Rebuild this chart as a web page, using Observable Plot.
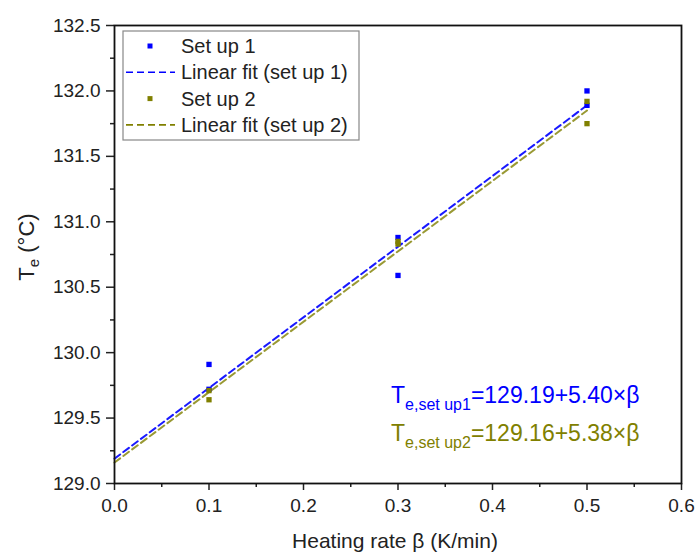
<!DOCTYPE html>
<html>
<head>
<meta charset="utf-8">
<script src="https://cdn.jsdelivr.net/npm/d3@7"></script>
<script src="https://cdn.jsdelivr.net/npm/@observablehq/plot@0.6"></script>
<style>
  html, body { margin: 0; padding: 0; background: #fff; }
  #chart svg { font-family: "Liberation Sans", Arial, sans-serif; }
</style>
</head>
<body>
<div id="chart"></div>
<script>
// ---- data ----
const setup1Rate = [0.1, 0.1, 0.3, 0.3, 0.5, 0.5];
const setup1Te   = [129.91, 129.72, 130.88, 130.59, 132.00, 131.89];
const setup2Rate = [0.1, 0.1, 0.3, 0.3, 0.5, 0.5];
const setup2Te   = [129.71, 129.64, 130.85, 130.83, 131.92, 131.75];
// linear fits: intercept, slope (from the equations shown)
const fit1 = {intercept: 129.19, slope: 5.40};
const fit2 = {intercept: 129.16, slope: 5.38};
const fitRange = [0, 0.5];
const xTicks = [0, 0.1, 0.2, 0.3, 0.4, 0.5, 0.6];
const yTicks = [129.0, 129.5, 130.0, 130.5, 131.0, 131.5, 132.0, 132.5];
const legendLabels = ["Set up 1", "Linear fit (set up 1)", "Set up 2", "Linear fit (set up 2)"];
const eq1 = {sub: "e,set up1", rest: "=129.19+5.40×β"};
const eq2 = {sub: "e,set up2", rest: "=129.16+5.38×β"};

const blue = "#0000ff";
const olive = "#808000";

const pts1 = setup1Rate.map((x, i) => ({x, y: setup1Te[i]}));
const pts2 = setup2Rate.map((x, i) => ({x, y: setup2Te[i]}));
const line1 = fitRange.map(x => ({x, y: fit1.intercept + fit1.slope * x}));
const line2 = fitRange.map(x => ({x, y: fit2.intercept + fit2.slope * x}));

const xMinor = d3.range(0, 0.6001, 0.05).filter(v => Math.abs(v * 10 - Math.round(v * 10)) > 1e-6);
const yMinor = d3.range(129.25, 132.5, 0.5);

const chart = Plot.plot({
  width: 697,
  height: 552,
  marginLeft: 114,
  marginRight: 16,
  marginTop: 25,
  marginBottom: 69,
  style: {fontSize: "19px", fontFamily: "Liberation Sans, Arial, sans-serif", color: "#222"},
  x: {domain: [0, 0.6]},
  y: {domain: [129, 132.5]},
  marks: [
    Plot.line(line1, {x: "x", y: "y", stroke: blue, strokeWidth: 2, strokeDasharray: "7,4", strokeOpacity: 0.9}),
    Plot.line(line2, {x: "x", y: "y", stroke: olive, strokeWidth: 2, strokeDasharray: "7,4", strokeOpacity: 0.8}),
    Plot.dot(pts1, {x: "x", y: "y", symbol: "square", r: 3, fill: blue}),
    Plot.dot(pts2, {x: "x", y: "y", symbol: "square", r: 3, fill: olive}),
    Plot.axisX({ticks: xTicks, tickSize: 7, tickPadding: 8, tickFormat: d3.format(".1f"), label: null, strokeWidth: 1.5, fill: "#222"}),
    Plot.axisX({ticks: xMinor, tickSize: 4, tickFormat: () => "", label: null, strokeWidth: 1.5}),
    Plot.axisY({ticks: yTicks, tickSize: 8, tickPadding: 6, tickFormat: d3.format(".1f"), label: null, strokeWidth: 1.5, fill: "#222"}),
    Plot.axisY({ticks: yMinor, tickSize: 4, tickFormat: () => "", label: null, strokeWidth: 1.5}),
    Plot.frame({stroke: "#111", strokeWidth: 1.8})
  ]
});

document.getElementById("chart").appendChild(chart);

const svg = d3.select(chart);
const font = "Liberation Sans, Arial, sans-serif";

// axis titles
svg.append("text")
  .attr("x", 395).attr("y", 548)
  .attr("text-anchor", "middle")
  .attr("font-family", font).attr("font-size", 21).attr("fill", "#222")
  .text("Heating rate β (K/min)");

const yt = svg.append("text")
  .attr("transform", "translate(34,247) rotate(-90)")
  .attr("text-anchor", "middle")
  .attr("font-family", font).attr("font-size", 22).attr("fill", "#222");
yt.append("tspan").text("T");
yt.append("tspan").attr("font-size", 15).attr("dy", 5).text("e");
yt.append("tspan").attr("dy", -5).text(" (°C)");

// legend
const lg = svg.append("g").attr("font-family", font).attr("font-size", 20).attr("fill", "#222")
  .attr("text-anchor", "start");
lg.append("rect").attr("x", 123).attr("y", 31).attr("width", 236).attr("height", 109)
  .attr("fill", "white").attr("stroke", "#888").attr("stroke-width", 1.2);
const rows = [
  {type: "dot", color: blue},
  {type: "line", color: blue},
  {type: "dot", color: olive},
  {type: "line", color: olive}
];
rows.forEach((r, i) => {
  const cy = 46 + i * 26.3;
  if (r.type === "dot") {
    lg.append("rect").attr("x", 147.5).attr("y", cy - 2.5).attr("width", 5).attr("height", 5).attr("fill", r.color);
  } else {
    lg.append("line").attr("x1", 126).attr("x2", 175).attr("y1", cy).attr("y2", cy)
      .attr("stroke", r.color).attr("stroke-width", 1.6).attr("stroke-dasharray", "7,4");
  }
  lg.append("text").attr("x", 181).attr("y", cy + 7).text(legendLabels[i]);
});

// equations
function equation(y, color, eq) {
  const t = svg.append("text").attr("x", 391).attr("y", y).attr("text-anchor", "start")
    .attr("font-family", font).attr("font-size", 23).attr("fill", color);
  t.append("tspan").text("T");
  t.append("tspan").attr("font-size", 16).attr("dy", 7).text(eq.sub);
  t.append("tspan").attr("dy", -7).text(eq.rest);
}
equation(403, blue, eq1);
equation(441, olive, eq2);
</script>
</body>
</html>
